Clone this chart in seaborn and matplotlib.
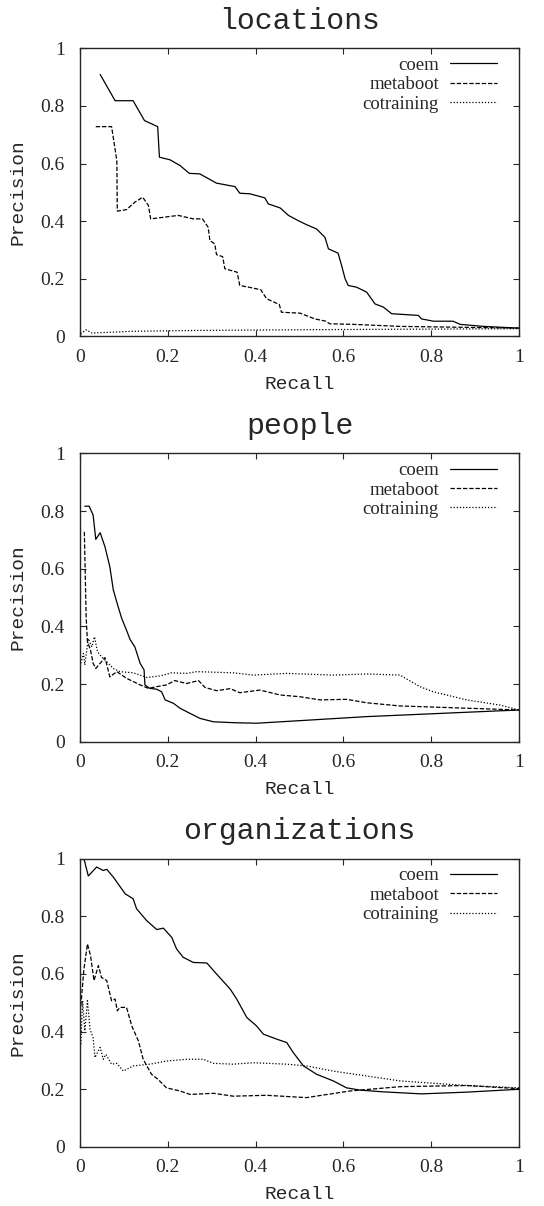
import numpy as np
import pandas as pd
import matplotlib
matplotlib.use("Agg")
import matplotlib.pyplot as plt
import seaborn as sns

# --- locations ---
loc_coem_r = [0.046, 0.080, 0.121, 0.147, 0.177, 0.181, 0.205, 0.228, 0.249, 0.273, 0.311, 0.353,
              0.364, 0.387, 0.421, 0.429, 0.456, 0.475, 0.497, 0.516, 0.539, 0.558, 0.566, 0.588,
              0.596, 0.604, 0.611, 0.630, 0.653, 0.672, 0.691, 0.710, 0.771, 0.778, 0.805, 0.850,
              0.866, 0.919, 1.0]
loc_coem_p = [0.909, 0.818, 0.818, 0.749, 0.728, 0.622, 0.613, 0.593, 0.566, 0.564, 0.532, 0.520,
              0.497, 0.495, 0.481, 0.460, 0.446, 0.420, 0.402, 0.388, 0.373, 0.344, 0.304, 0.289,
              0.246, 0.200, 0.177, 0.171, 0.154, 0.113, 0.102, 0.079, 0.073, 0.061, 0.053, 0.053,
              0.042, 0.035, 0.029]
loc_meta_r = [0.036, 0.072, 0.084, 0.085, 0.106, 0.125, 0.143, 0.156, 0.161, 0.182, 0.224, 0.258,
              0.279, 0.292, 0.296, 0.307, 0.311, 0.325, 0.330, 0.358, 0.364, 0.391, 0.412, 0.425,
              0.454, 0.459, 0.501, 0.535, 0.560, 0.569, 0.623, 0.729, 1.0]
loc_meta_p = [0.728, 0.728, 0.610, 0.435, 0.440, 0.466, 0.483, 0.454, 0.408, 0.412, 0.420, 0.408,
              0.408, 0.379, 0.333, 0.321, 0.284, 0.277, 0.235, 0.223, 0.177, 0.169, 0.162, 0.131,
              0.111, 0.084, 0.081, 0.061, 0.053, 0.044, 0.042, 0.035, 0.029]
loc_cot_r = [0.0015, 0.014, 0.027, 0.121, 0.273, 0.577, 1.0]
loc_cot_p = [0.009, 0.023, 0.012, 0.018, 0.021, 0.024, 0.027]

# --- people ---
peo_coem_r = [0.011, 0.021, 0.030, 0.036, 0.046, 0.057, 0.068, 0.076, 0.087, 0.095, 0.106, 0.114,
              0.125, 0.137, 0.146, 0.148, 0.159, 0.175, 0.186, 0.194, 0.213, 0.228, 0.251, 0.273,
              0.304, 0.349, 0.402, 0.501, 0.653, 1.0]
peo_coem_p = [0.817, 0.817, 0.786, 0.702, 0.725, 0.676, 0.607, 0.526, 0.468, 0.428, 0.387, 0.355,
              0.329, 0.272, 0.249, 0.197, 0.185, 0.182, 0.173, 0.145, 0.133, 0.116, 0.098, 0.081,
              0.069, 0.066, 0.064, 0.073, 0.087, 0.110]
peo_meta_r = [0.010, 0.014, 0.017, 0.024, 0.030, 0.036, 0.046, 0.057, 0.068, 0.084, 0.106, 0.137,
              0.156, 0.175, 0.197, 0.216, 0.243, 0.270, 0.285, 0.311, 0.342, 0.364, 0.410, 0.456,
              0.501, 0.547, 0.607, 0.653, 0.729, 1.0]
peo_meta_p = [0.728, 0.434, 0.347, 0.318, 0.272, 0.254, 0.272, 0.292, 0.225, 0.243, 0.220, 0.197,
              0.185, 0.191, 0.197, 0.212, 0.202, 0.212, 0.188, 0.177, 0.184, 0.170, 0.179, 0.162,
              0.156, 0.145, 0.147, 0.135, 0.124, 0.110]
peo_cot_r = [0.002, 0.008, 0.011, 0.019, 0.027, 0.033, 0.040, 0.049, 0.061, 0.076, 0.091, 0.121,
             0.152, 0.182, 0.209, 0.243, 0.266, 0.349, 0.395, 0.471, 0.577, 0.653, 0.729, 0.774,
             0.805, 0.881, 0.957, 1.0]
peo_cot_p = [0.272, 0.306, 0.266, 0.358, 0.329, 0.364, 0.312, 0.295, 0.277, 0.254, 0.243, 0.239,
             0.223, 0.228, 0.239, 0.237, 0.243, 0.239, 0.231, 0.237, 0.231, 0.235, 0.231, 0.191,
             0.173, 0.145, 0.127, 0.110]

# --- organizations ---
org_coem_r = [0.009, 0.019, 0.038, 0.053, 0.061, 0.076, 0.103, 0.121, 0.129, 0.152, 0.175, 0.190,
              0.209, 0.220, 0.235, 0.258, 0.289, 0.311, 0.342, 0.357, 0.380, 0.402, 0.418, 0.448,
              0.471, 0.486, 0.509, 0.539, 0.577, 0.607, 0.638, 0.691, 0.778, 0.881, 1.0]
org_coem_p = [1.0, 0.940, 0.971, 0.959, 0.963, 0.936, 0.878, 0.861, 0.826, 0.785, 0.754, 0.759,
              0.727, 0.687, 0.658, 0.640, 0.638, 0.600, 0.548, 0.513, 0.449, 0.420, 0.391, 0.374,
              0.362, 0.327, 0.281, 0.252, 0.229, 0.205, 0.197, 0.191, 0.184, 0.190, 0.200]
org_meta_r = [0.002, 0.009, 0.017, 0.024, 0.032, 0.042, 0.049, 0.061, 0.072, 0.080, 0.085, 0.091,
              0.106, 0.118, 0.133, 0.144, 0.163, 0.178, 0.197, 0.228, 0.251, 0.304, 0.349, 0.425,
              0.516, 0.615, 0.729, 0.881, 1.0]
org_meta_p = [0.490, 0.617, 0.704, 0.664, 0.577, 0.629, 0.588, 0.577, 0.507, 0.513, 0.472, 0.484,
              0.484, 0.420, 0.368, 0.304, 0.252, 0.234, 0.205, 0.194, 0.182, 0.186, 0.176, 0.179,
              0.171, 0.194, 0.209, 0.213, 0.202]
org_cot_r = [0.002, 0.006, 0.011, 0.017, 0.023, 0.030, 0.034, 0.046, 0.053, 0.059, 0.072, 0.084,
             0.099, 0.121, 0.159, 0.197, 0.243, 0.281, 0.304, 0.349, 0.395, 0.471, 0.516, 0.577,
             0.653, 0.729, 0.881, 1.0]
org_cot_p = [0.356, 0.507, 0.403, 0.507, 0.408, 0.379, 0.310, 0.345, 0.304, 0.321, 0.287, 0.290,
             0.263, 0.281, 0.287, 0.298, 0.304, 0.304, 0.290, 0.287, 0.292, 0.287, 0.281, 0.263,
             0.246, 0.229, 0.213, 0.205]

methods = ["coem", "metaboot", "cotraining"]
titles = ["locations", "people", "organizations"]
panels = [
    [(loc_coem_r, loc_coem_p), (loc_meta_r, loc_meta_p), (loc_cot_r, loc_cot_p)],
    [(peo_coem_r, peo_coem_p), (peo_meta_r, peo_meta_p), (peo_cot_r, peo_cot_p)],
    [(org_coem_r, org_coem_p), (org_meta_r, org_meta_p), (org_cot_r, org_cot_p)],
]

sns.set_style("ticks")
mono = "Liberation Mono"
serif = "Liberation Serif"

dashes = {"coem": "", "metaboot": (3.5, 1.5), "cotraining": (1, 1.5)}
fig = plt.figure(figsize=(5.44, 12.06), dpi=100)
boxes = [(0.147, 0.721), (0.147, 0.385), (0.147, 0.049)]

for i, (title, series) in enumerate(zip(titles, panels)):
    ax = fig.add_axes([boxes[i][0], boxes[i][1], 0.807, 0.239])
    rows = []
    for m, (r, p) in zip(methods, series):
        for k, (a, b) in enumerate(zip(r, p)):
            rows.append({"Recall": a, "Precision": b, "method": m, "order": k})
    df = pd.DataFrame(rows)
    sns.lineplot(data=df, x="Recall", y="Precision", hue="method", style="method",
                 palette={m: "black" for m in methods}, dashes=dashes,
                 sort=False, estimator=None, linewidth=0.9, ax=ax)
    ax.set_xlim(0, 1)
    ax.set_ylim(0, 1)
    ax.set_xticks([0, 0.2, 0.4, 0.6, 0.8, 1])
    ax.set_yticks([0, 0.2, 0.4, 0.6, 0.8, 1])
    ax.set_xticklabels(["0", "0.2", "0.4", "0.6", "0.8", "1"])
    ax.set_yticklabels(["0", "0.2", "0.4", "0.6", "0.8", "1"])
    ax.tick_params(direction="in", length=4, width=0.8, top=True, right=True,
                   labelsize=14)
    ax.tick_params(axis="x", pad=9)
    ax.tick_params(axis="y", pad=11)
    for lab in ax.get_xticklabels() + ax.get_yticklabels():
        lab.set_fontfamily(serif)
    for s in ax.spines.values():
        s.set_visible(True)
        s.set_linewidth(1.0)
    ax.set_title(title, fontfamily=mono, fontsize=21.5, pad=14)
    ax.set_xlabel("Recall", fontfamily=mono, fontsize=14, labelpad=7)
    ax.set_ylabel("Precision", fontfamily=mono, fontsize=14, labelpad=10)
    handles, labels = ax.get_legend_handles_labels()
    ax.legend(handles, labels, loc="upper right", bbox_to_anchor=(0.95, 0.97),
              frameon=False, markerfirst=False, borderpad=0, borderaxespad=0,
              prop={"family": serif, "size": 13.5}, handlelength=2.5,
              labelspacing=0.12, handletextpad=0.6)

fig.savefig("out.png", dpi=100)
